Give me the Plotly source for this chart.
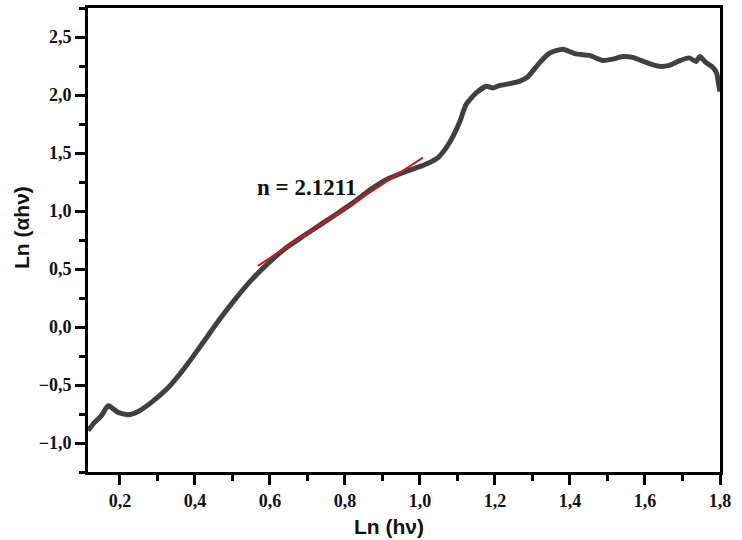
import plotly.graph_objects as go

# Data
ln_hv = [0.115, 0.133, 0.151, 0.169, 0.195, 0.222, 0.249, 0.284, 0.329, 0.373, 0.418,
         0.462, 0.506, 0.551, 0.595, 0.640, 0.688, 0.733, 0.777, 0.822, 0.866, 0.910,
         0.954, 0.990, 1.020, 1.050, 1.079, 1.105, 1.123, 1.150, 1.177, 1.194, 1.212,
         1.239, 1.265, 1.287, 1.318, 1.345, 1.381, 1.416, 1.452, 1.487, 1.514, 1.540,
         1.567, 1.603, 1.638, 1.665, 1.691, 1.718, 1.736, 1.746, 1.762, 1.780, 1.791,
         1.796, 1.800]
ln_ahv = [-0.893, -0.820, -0.765, -0.679, -0.736, -0.756, -0.728, -0.650, -0.522, -0.351,
          -0.151, 0.049, 0.234, 0.406, 0.548, 0.675, 0.782, 0.878, 0.972, 1.072, 1.180,
          1.270, 1.330, 1.372, 1.410, 1.465, 1.590, 1.760, 1.918, 2.018, 2.075, 2.061,
          2.081, 2.098, 2.118, 2.155, 2.275, 2.360, 2.395, 2.354, 2.341, 2.298, 2.309,
          2.332, 2.324, 2.281, 2.247, 2.255, 2.294, 2.320, 2.289, 2.332, 2.281, 2.241,
          2.189, 2.100, 2.030]

fit_slope = 2.1211
fit_intercept = -0.678
fit_x = [0.568, 1.008]
fit_y = [fit_slope * x + fit_intercept for x in fit_x]
fit_label = "n = 2.1211"
label_pos = (0.697, 1.205)

x_title = "Ln (hν)"
y_title = "Ln (αhν)"
x_ticks = [0.2, 0.4, 0.6, 0.8, 1.0, 1.2, 1.4, 1.6, 1.8]
y_ticks = [-1.0, -0.5, 0.0, 0.5, 1.0, 1.5, 2.0, 2.5]

fig = go.Figure()
fig.add_trace(go.Scatter(x=ln_hv, y=ln_ahv, mode="lines",
                         line=dict(color="#404040", width=5, shape="spline", smoothing=0.6),
                         showlegend=False, hoverinfo="skip"))
fig.add_trace(go.Scatter(x=fit_x, y=fit_y, mode="lines",
                         line=dict(color="#d01818", width=2),
                         showlegend=False, hoverinfo="skip"))
fig.add_annotation(x=label_pos[0], y=label_pos[1], text=fit_label, showarrow=False,
                   font=dict(family="Liberation Serif", size=23, color="#111111", weight="bold"))

tickfont = dict(family="Liberation Serif", size=18, color="#111111", weight="bold")
titlefont = dict(family="Liberation Sans", size=21, color="#111111", weight="bold")

fig.add_annotation(xref="paper", yref="paper", x=0.477, y=0, yshift=-54,
                   xanchor="center", yanchor="middle", showarrow=False,
                   text=x_title, font=titlefont)
fig.add_annotation(xref="paper", yref="paper", x=0, y=0.5257, xshift=-67,
                   xanchor="center", yanchor="middle", showarrow=False, textangle=-90,
                   text=y_title, font=titlefont)

fig.update_layout(
    width=742, height=540,
    margin=dict(l=88, r=22, t=5, b=68),
    plot_bgcolor="white", paper_bgcolor="white",
    separators=",.",
    xaxis=dict(range=[0.115, 1.8], tickvals=x_ticks, tickformat=".1f",
               showgrid=False, zeroline=False,
               showline=True, linecolor="black", linewidth=3, mirror=True,
               ticks="outside", ticklen=10, tickwidth=3, tickcolor="black",
               minor=dict(ticks="outside", ticklen=6, tickwidth=3, tickcolor="black", dtick=0.1,
                          tick0=0.1, showgrid=False),
               tickfont=tickfont),
    yaxis=dict(range=[-1.25, 2.75], tickvals=y_ticks, tickformat=".1f",
               showgrid=False, zeroline=False,
               showline=True, linecolor="black", linewidth=3, mirror=True,
               ticks="outside", ticklen=10, tickwidth=3, tickcolor="black",
               minor=dict(ticks="outside", ticklen=6, tickwidth=3, tickcolor="black", dtick=0.25,
                          tick0=-1.25, showgrid=False),
               tickfont=tickfont),
)

fig.write_html("out.html")
